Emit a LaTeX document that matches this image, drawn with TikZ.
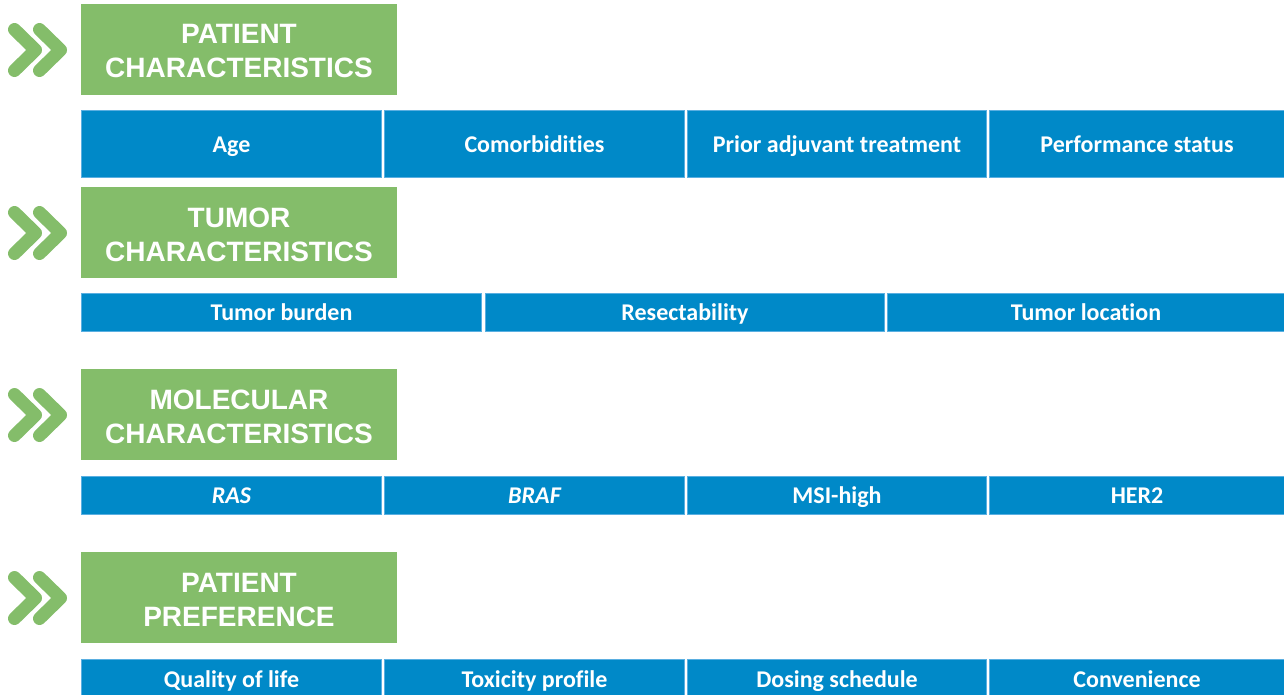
\documentclass[tikz,border=0pt]{standalone}
\usepackage{fontspec}
\newfontfamily\headfont{Liberation Sans}
\newfontfamily\cellfont[RawFeature={-liga;-clig;-dlig;-calt}]{Carlito}
\definecolor{headgreen}{RGB}{132,189,106}
\definecolor{cellblue}{RGB}{0,137,200}
\definecolor{celledge}{RGB}{90,175,225}
\begin{document}
\begin{tikzpicture}[x=1pt,y=-1pt,
  headerbox/.style={fill=headgreen, inner sep=0pt, minimum width=316pt, minimum height=91pt},
  headertext/.style={text=white, align=center, inner sep=0pt, yshift=-2pt,
    font=\headfont\bfseries\fontsize{28}{34}\selectfont},
  cell/.style={fill=cellblue, draw=celledge, line width=0.6pt, inner sep=0pt,
    text=white, text height=17pt, text depth=0pt,
    font=\cellfont\bfseries\fontsize{24}{28}\selectfont},
  chev/.style={draw=headgreen, line width=13pt, line cap=round, line join=round}]
\useasboundingbox (0,0) rectangle (1284,694);

% double chevron marker
\newcommand{\doublechevron}[1]{%
  \draw[chev] (14.5,#1-20.5) -- (35.5,#1) -- (14.5,#1+20.5);
  \draw[chev] (39.5,#1-20.5) -- (60.5,#1) -- (39.5,#1+20.5);}

% patient characteristics
\doublechevron{50}
\node[headerbox] (patient) at (239,49.5) {};
\node[headertext] (patientlbl) at (patient.center) {PATIENT\\CHARACTERISTICS};
\node[cell, minimum width=300pt, minimum height=67pt] (age) at (231.5,143.5) {Age};
\node[cell, minimum width=300pt, minimum height=67pt] (comorb) at (534.5,143.5) {Comorbidities};
\node[cell, minimum width=299pt, minimum height=67pt] (prior) at (837,143.5) {Prior adjuvant treatment};
\node[cell, minimum width=295pt, minimum height=67pt] (perf) at (1137,143.5) {Performance status};

% tumor characteristics
\doublechevron{233}
\node[headerbox] (tumor) at (239,232.5) {};
\node[headertext] (tumorlbl) at (tumor.center) {TUMOR\\CHARACTERISTICS};
\node[cell, minimum width=400pt, minimum height=38pt] (burden) at (281.5,312) {Tumor burden};
\node[cell, minimum width=399pt, minimum height=38pt] (resect) at (685,312) {Resectability};
\node[cell, minimum width=397pt, minimum height=38pt] (location) at (1086,312) {Tumor location};

% molecular characteristics
\doublechevron{415}
\node[headerbox] (molecular) at (239,414.5) {};
\node[headertext] (molecularlbl) at (molecular.center) {MOLECULAR\\CHARACTERISTICS};
\node[cell, minimum width=300pt, minimum height=38pt] (ras) at (231.5,495) {\itshape RAS};
\node[cell, minimum width=300pt, minimum height=38pt] (braf) at (534.5,495) {\itshape BRAF};
\node[cell, minimum width=299pt, minimum height=38pt] (msi) at (837,495) {MSI-high};
\node[cell, minimum width=295pt, minimum height=38pt] (her2) at (1137,495) {HER2};

% patient preference
\doublechevron{598}
\node[headerbox] (preference) at (239,597.5) {};
\node[headertext] (preferencelbl) at (preference.center) {PATIENT\\PREFERENCE};
\node[cell, minimum width=300pt, minimum height=38pt] (qol) at (231.5,678.5) {Quality of life};
\node[cell, minimum width=300pt, minimum height=38pt] (tox) at (534.5,678.5) {Toxicity profile};
\node[cell, minimum width=299pt, minimum height=38pt] (dosing) at (837,678.5) {Dosing schedule};
\node[cell, minimum width=295pt, minimum height=38pt] (conv) at (1137,678.5) {Convenience};
\end{tikzpicture}
\end{document}
